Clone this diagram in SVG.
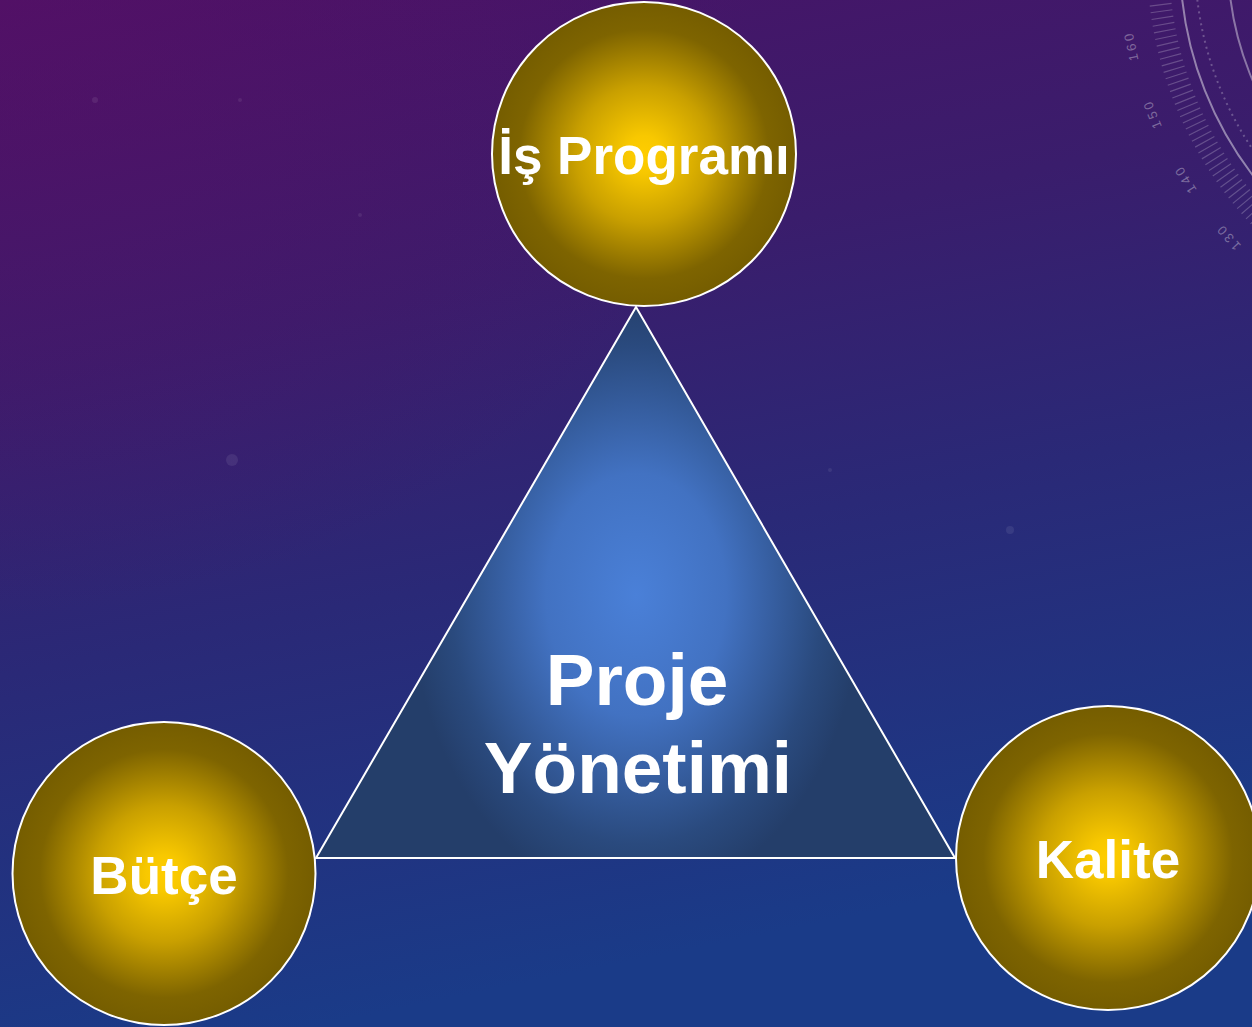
<svg xmlns="http://www.w3.org/2000/svg" width="1252" height="1027" viewBox="0 0 1252 1027">
  <defs>
    <linearGradient id="bg" x1="0" y1="0" x2="0.25" y2="1">
      <stop offset="0" stop-color="#4a1266"/>
      <stop offset="0.35" stop-color="#3a1d6c"/>
      <stop offset="0.62" stop-color="#2a2977"/>
      <stop offset="1" stop-color="#1a3b88"/>
    </linearGradient>
    <radialGradient id="bgGlow" cx="0" cy="0" r="0.6">
      <stop offset="0" stop-color="#5a0f66" stop-opacity="0.5"/>
      <stop offset="1" stop-color="#5a0f66" stop-opacity="0"/>
    </radialGradient>
    <radialGradient id="gold" cx="0.5" cy="0.5" r="0.5">
      <stop offset="0" stop-color="#ffcd00"/>
      <stop offset="0.12" stop-color="#f8c800"/>
      <stop offset="0.45" stop-color="#c9a000"/>
      <stop offset="0.82" stop-color="#7e6400"/>
      <stop offset="1" stop-color="#755d00"/>
    </radialGradient>
    <radialGradient id="tri" gradientUnits="userSpaceOnUse" cx="636" cy="595" r="225" gradientTransform="translate(636 595) scale(1 1.35) translate(-636 -595)">
      <stop offset="0" stop-color="#4a80d8"/>
      <stop offset="0.4" stop-color="#4272c2"/>
      <stop offset="0.82" stop-color="#2a4a7e"/>
      <stop offset="1" stop-color="#243e6a"/>
    </radialGradient>
    <style>
      .node-circle { fill: url(#gold); stroke: #ffffff; stroke-width: 2; }
      .label { font-family: "Liberation Sans", Arial, sans-serif; font-weight: bold; fill: #ffffff; text-anchor: middle; }
      .dial { fill: none; stroke: #ffffff; }
      .dialnum { font-family: "Liberation Sans", Arial, sans-serif; font-size: 13px; letter-spacing: 3px; fill: #ffffff; fill-opacity: 0.35; text-anchor: middle; dominant-baseline: central; }
    </style>
  </defs>

  <!-- background -->
  <rect x="0" y="0" width="1252" height="1027" fill="url(#bg)"/>
  <rect x="0" y="0" width="1252" height="1027" fill="url(#bgGlow)"/>
  <g fill="#ffffff" fill-opacity="0.08">
    <circle cx="232" cy="460" r="6"/>
    <circle cx="95" cy="100" r="3"/>
    <circle cx="240" cy="100" r="2"/>
    <circle cx="1010" cy="530" r="4"/>
    <circle cx="360" cy="215" r="2"/>
    <circle cx="1130" cy="840" r="3"/>
    <circle cx="830" cy="470" r="2"/>
    <circle cx="1065" cy="985" r="2"/>
  </g>

  <!-- dial decoration -->
  <g id="dial">
    <circle class="dial" cx="1535" cy="-40" r="355" stroke-opacity="0.45" stroke-width="2"/>
    <circle class="dial" cx="1535" cy="-40" r="307" stroke-opacity="0.4" stroke-width="2"/>
    <circle class="dial" cx="1535" cy="-40" r="340" stroke-opacity="0.25" stroke-width="2" stroke-dasharray="2 4"/>
    <circle class="dial" cx="1535" cy="-40" r="377" stroke-opacity="0.22" stroke-width="22" stroke-dasharray="1.2 5.38"/>
    <text class="dialnum" transform="translate(1131 46) rotate(258)">160</text>
    <text class="dialnum" transform="translate(1152 114) rotate(248)">150</text>
    <text class="dialnum" transform="translate(1185 179) rotate(238)">140</text>
    <text class="dialnum" transform="translate(1228 237) rotate(228)">130</text>
  </g>

  <g id="connectors"/>

  <!-- center triangle -->
  <g id="node-proje-yonetimi">
    <polygon points="636,307 316,858 955,858" fill="url(#tri)" stroke="#ffffff" stroke-width="2" stroke-linejoin="miter"/>
    <text class="label" x="637" y="705" font-size="73">Proje</text>
    <text class="label" x="638" y="793" font-size="73">Yönetimi</text>
  </g>

  <g id="node-is-programi">
    <circle class="node-circle" cx="644" cy="154" r="152"/>
    <text class="label" x="644" y="174" font-size="53">İş Programı</text>
  </g>

  <g id="node-butce">
    <circle class="node-circle" cx="164" cy="873.5" r="151.5"/>
    <text class="label" x="164" y="894" font-size="53">Bütçe</text>
  </g>

  <g id="node-kalite">
    <circle class="node-circle" cx="1108" cy="858" r="152"/>
    <text class="label" x="1108" y="878" font-size="53">Kalite</text>
  </g>
</svg>
